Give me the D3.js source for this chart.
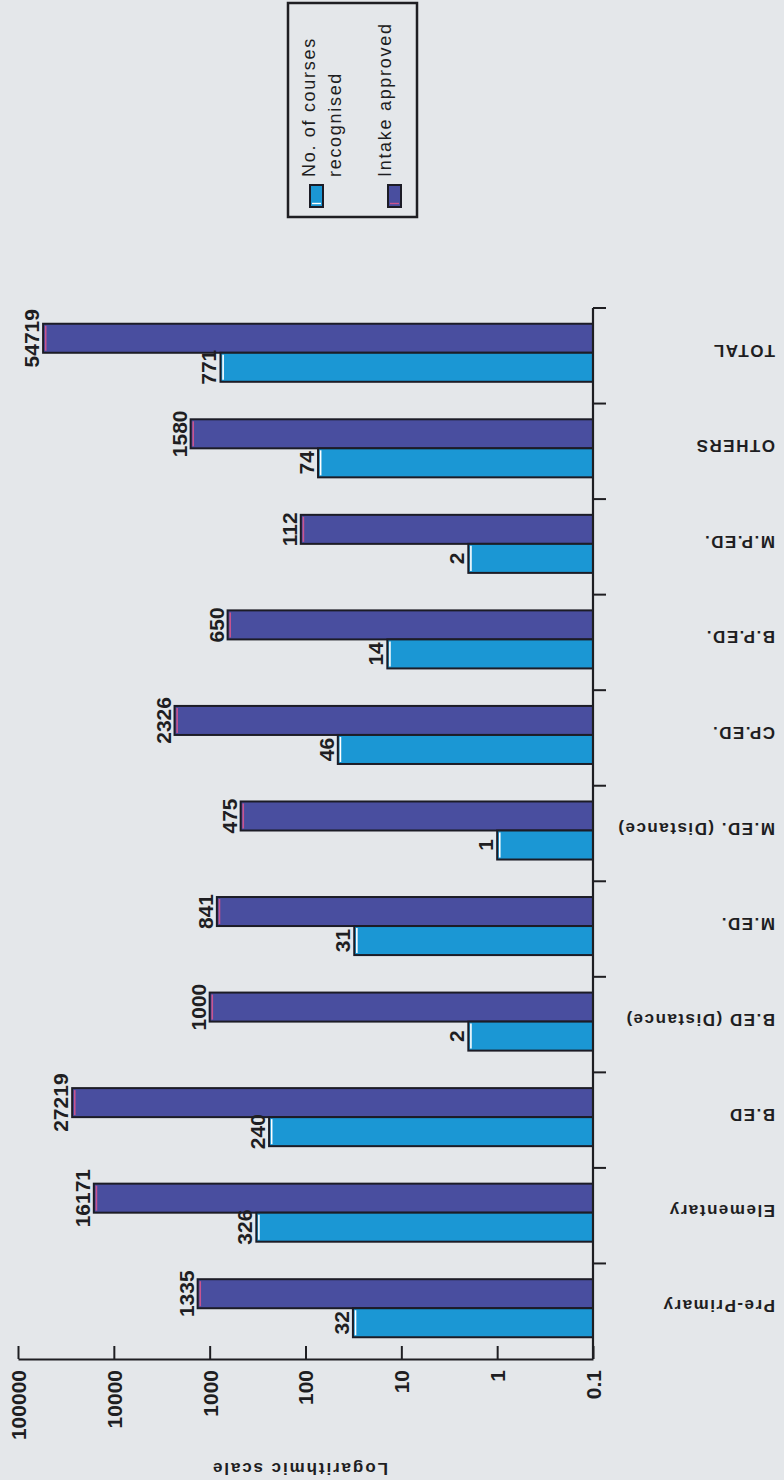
<!DOCTYPE html>
<html>
<head>
<meta charset="utf-8">
<script src="https://cdn.jsdelivr.net/npm/d3@7"></script>
<style>
  html, body { margin: 0; padding: 0; background: #e4e7ea; }
  svg { display: block; }
  text { font-family: "Liberation Sans", Arial, Helvetica, sans-serif; fill: #1e1e22; }
</style>
</head>
<body>
<div id="chart"></div>
<script>
// ---- data ----
const categories = ["Pre-Primary", "Elementary", "B.ED", "B.ED (Distance)", "M.ED.",
  "M.ED. (Distance)", "CP.ED.", "B.P.ED.", "M.P.ED.", "OTHERS", "TOTAL"];
const coursesRecognised = [32, 326, 240, 2, 31, 1, 46, 14, 2, 74, 771];
const intakeApproved = [1335, 16171, 27219, 1000, 841, 475, 2326, 650, 112, 1580, 54719];
const seriesKeys = ["intake", "courses"];
const legendLabels = [["No. of courses", "recognised"], ["Intake approved"]];
const tickValues = [0.1, 1, 10, 100, 1000, 10000, 100000];
const tickLabels = ["0.1", "1", "10", "100", "1000", "10000", "100000"];
const axisTitle = "Logarithmic scale";

// ---- layout ----
const W = 784, H = 1480;
const colors = { courses: "#1b97d4", intake: "#494e9f" };
const highlight = { courses: "#ffffff", intake: "#c9548e" };

const svg = d3.select("#chart").append("svg").attr("width", W).attr("height", H);
svg.append("rect").attr("width", W).attr("height", H).attr("fill", "#e4e7ea");

const x = d3.scaleLog().domain([0.1, 100000]).range([593, 18]);
const y = d3.scaleBand().domain(categories).range([1359, 308]);
const inner = d3.scaleBand().domain(seriesKeys).range([0, y.bandwidth()])
  .paddingInner(0).paddingOuter(0.646).align(0.42);

const rows = categories.map((c, i) => ({
  cat: c,
  vals: [
    { key: "intake", v: intakeApproved[i] },
    { key: "courses", v: coursesRecognised[i] }
  ]
}));

const bars = svg.append("g");
rows.forEach(r => {
  r.vals.forEach(d => {
    const x0 = x(d.v), x1 = x(0.1);
    const y0 = y(r.cat) + inner(d.key), h = inner.bandwidth();
    bars.append("rect")
      .attr("x", x0).attr("y", y0)
      .attr("width", x1 - x0).attr("height", h)
      .attr("fill", colors[d.key])
      .attr("stroke", "#1c1c26").attr("stroke-width", 2);
    bars.append("line")
      .attr("x1", x0 + 2.6).attr("x2", x0 + 2.6)
      .attr("y1", y0 + 2).attr("y2", y0 + h - 2)
      .attr("stroke", highlight[d.key]).attr("stroke-width", 1.6);
    bars.append("text")
      .attr("transform", `translate(${x0 - 4},${y0 + h / 2}) rotate(-90)`)
      .attr("text-anchor", "middle")
      .style("font-size", "21px").style("font-weight", "bold")
      .text(d.v);
  });
});

// ---- value axis (bottom) ----
const xAxis = svg.append("g").attr("transform", "translate(0,1359)")
  .call(d3.axisBottom(x).tickValues(tickValues)
    .tickFormat((d, i) => tickLabels[i]).tickSize(-13).tickSizeOuter(0));
xAxis.select(".domain").attr("stroke", "#1e1e22").attr("stroke-width", 2.2);
xAxis.selectAll(".tick line").attr("stroke", "#1e1e22").attr("stroke-width", 2);
xAxis.selectAll(".tick text")
  .attr("transform", "rotate(-90)")
  .attr("x", -11).attr("y", 0).attr("dy", "0.35em")
  .attr("text-anchor", "end")
  .style("font-size", "21px").style("font-weight", "bold")
  .attr("fill", "#1e1e22");
xAxis.attr("font-family", null).attr("font-size", null);

svg.append("text")
  .attr("transform", `translate(${d3.mean(x.range()) - 6},1463) rotate(180)`)
  .attr("text-anchor", "middle")
  .style("font-size", "17px").style("font-weight", "bold")
  .style("letter-spacing", "1.9px")
  .text(axisTitle);

// ---- category axis (right) ----
const yr = y.range();
svg.append("line")
  .attr("x1", x(0.1)).attr("x2", x(0.1))
  .attr("y1", yr[1]).attr("y2", yr[0])
  .attr("stroke", "#1e1e22").attr("stroke-width", 2.2);
categories.forEach(c => {
  svg.append("line")
    .attr("x1", x(0.1)).attr("x2", x(0.1) + 13)
    .attr("y1", y(c)).attr("y2", y(c))
    .attr("stroke", "#1e1e22").attr("stroke-width", 2);
  svg.append("text")
    .attr("transform", `translate(775,${y(c) + y.bandwidth() / 2 - 11}) rotate(180)`)
    .attr("text-anchor", "start")
    .style("font-size", "17px").style("font-weight", "bold")
    .style("letter-spacing", "1.5px")
    .text(c);
});

// ---- legend ----
const lg = svg.append("g");
lg.append("rect").attr("x", 288).attr("y", 3).attr("width", 129).attr("height", 214)
  .attr("fill", "none").attr("stroke", "#1e1e22").attr("stroke-width", 2.5);
const legendItems = [
  { key: "courses", lines: legendLabels[0], base: 315, sw: 310 },
  { key: "intake", lines: legendLabels[1], base: 391, sw: 388 }
];
legendItems.forEach(it => {
  lg.append("rect").attr("x", it.sw).attr("y", 185).attr("width", 13).attr("height", 22)
    .attr("fill", colors[it.key]).attr("stroke", "#1c1c26").attr("stroke-width", 2);
  lg.append("line").attr("x1", it.sw + 2).attr("x2", it.sw + 11)
    .attr("y1", 203.5).attr("y2", 203.5)
    .attr("stroke", highlight[it.key]).attr("stroke-width", 1.4);
  it.lines.forEach((ln, j) => {
    lg.append("text")
      .attr("transform", `translate(${it.base + j * 26},177) rotate(-90)`)
      .attr("text-anchor", "start")
      .style("font-size", "18px")
      .style("letter-spacing", "1.7px")
      .text(ln);
  });
});
</script>
</body>
</html>
